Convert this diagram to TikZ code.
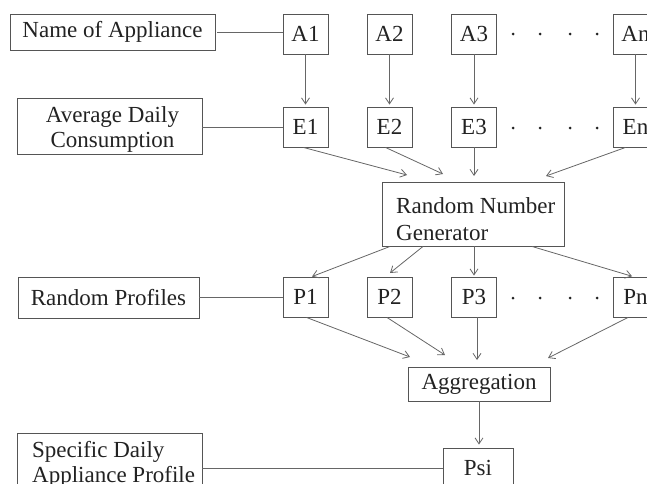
\documentclass[tikz,border=0pt]{standalone}
\usepackage{fontspec}
\setmainfont{Liberation Serif}
\usetikzlibrary{arrows.meta}
\definecolor{boxc}{HTML}{555555}
\definecolor{linec}{HTML}{666666}
\definecolor{txt}{HTML}{222222}
\newcommand\fsz{\fontsize{23}{25}\selectfont}
\begin{document}
\begin{tikzpicture}[x=1pt,y=-1pt,
  box/.style={draw=boxc, line width=0.9pt, inner sep=0pt, font=\fsz, text=txt},
  small/.style={box, minimum width=45pt, minimum height=40pt},
  txtnode/.style={inner sep=0pt, font=\fsz, text=txt},
  link/.style={draw=linec, line width=0.8pt},
  arr/.style={link, -{Straight Barb[length=6pt,width=8pt,line width=0.8pt]}},
  dotc/.style={fill=txt}
]
\useasboundingbox (0,0) rectangle (647,483);
% left labels
\node[box, minimum width=205pt, minimum height=36pt] (name) at (112.5,32) {Name of Appliance};
\node[box, minimum width=185pt, minimum height=56pt] (avg) at (109.5,126) {};
\node[txtnode, align=center, font=\fontsize{23}{25}\selectfont] (avgt) at (112.5,129) {Average Daily\\Consumption};
\node[box, minimum width=181pt, minimum height=41pt] (rp) at (108.5,297.5) {Random Profiles};
\node[box, minimum width=185pt, minimum height=56pt] (spec) at (109.5,461) {};
\node[txtnode, anchor=west, align=left, font=\fontsize{23}{25}\selectfont] (spect) at (32,464) {Specific Daily\\Appliance Profile};
% A row
\node[small] (A1) at (305.5,34) {A1};
\node[small] (A2) at (389.5,34) {A2};
\node[small] (A3) at (474,34) {A3};
\node[small] (An) at (635.5,34) {An};
% E row
\node[small] (E1) at (305.5,127) {E1};
\node[small] (E2) at (389.5,127) {E2};
\node[small] (E3) at (474,127) {E3};
\node[small] (En) at (635.5,127) {En};
% RNG
\node[box, minimum width=182pt, minimum height=64pt] (rng) at (473,214) {};
\node[txtnode, anchor=west, align=left, font=\fontsize{23}{27}\selectfont] (rngt) at (396,219) {Random Number\\Generator};
% P row
\node[small] (P1) at (305.5,297) {P1};
\node[small] (P2) at (389.5,297) {P2};
\node[small] (P3) at (474,297) {P3};
\node[small] (Pn) at (635.5,297) {Pn};
% Aggregation and Psi
\node[box, minimum width=142pt, minimum height=34pt] (agg) at (479,384) {Aggregation};
\node[box, minimum width=70pt, minimum height=40pt] (psi) at (478,468) {Psi};
% dots
\foreach \yy in {34,128,298}{
  \foreach \xx in {513,540,570,597}{
    \fill[dotc] (\xx,\yy) circle (1.5pt);
  }
}
% horizontal links
\draw[link] ([xshift=2pt]name.east) -- (name.east -| A1.west);
\draw[link] (E1.west -| avg.east) -- (E1.west);
\draw[link] (P1.west -| rp.east) -- (P1.west);
\draw[link] (psi.west -| spec.east) -- (psi.west);
% A -> E
\foreach \i in {1,2,3,n}{
  \draw[arr, shorten >=2pt] (A\i.south) -- (E\i.north);
}
% E -> RNG
\coordinate (t1) at (407,175);
\coordinate (t2) at (443,174);
\coordinate (t3) at (474,176);
\coordinate (t4) at (546,176);
\draw[arr] ([xshift=-2pt]E1.south) -- (t1);
\draw[arr] ([xshift=-4pt]E2.south) -- (t2);
\draw[arr] (E3.south) -- (t3);
\draw[arr] ([xshift=-10pt]En.south) -- (t4);
% RNG -> P
\coordinate (u2) at (390,273);
\draw[arr] ([xshift=-83pt]rng.south) -- ([xshift=6.5pt]P1.north);
\draw[arr] ([xshift=-50pt]rng.south) -- (u2);
\draw[arr, shorten >=1pt] (rng.south -| P3.north) -- (P3.north);
\draw[arr, shorten >=1pt] ([xshift=59pt]rng.south) -- ([xshift=-2.5pt]Pn.north);
% P -> Aggregation
\coordinate (v1) at (410,357);
\coordinate (v2) at (445,355);
\coordinate (v3) at (477,360);
\coordinate (v4) at (548,358);
\draw[arr] ([xshift=1pt]P1.south) -- (v1);
\draw[arr] ([xshift=-2.5pt]P2.south) -- (v2);
\draw[arr] (P3.south -| v3) -- (v3);
\draw[arr] ([xshift=-7.5pt]Pn.south) -- (v4);
% Aggregation -> Psi
\draw[arr, shorten >=3pt] (agg.south) -- (agg.south |- psi.north);
\end{tikzpicture}
\end{document}
